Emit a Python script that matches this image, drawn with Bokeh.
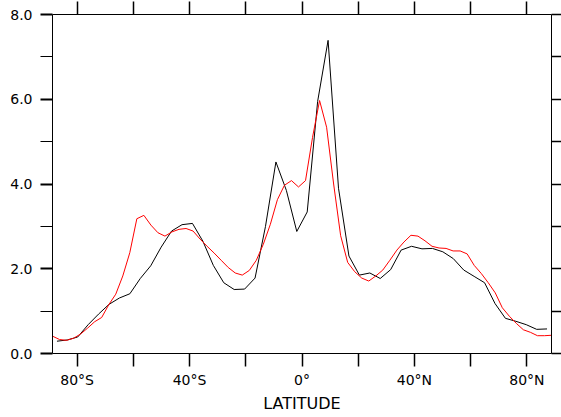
from bokeh.plotting import figure
from bokeh.models import Range1d, LinearAxis, FixedTicker
from bokeh.embed import file_html
from bokeh.resources import INLINE

# Black series: 48-point Gaussian latitudes
lat_black = [-87.159, -83.479, -79.777, -76.070, -72.362, -68.652, -64.942, -61.232,
             -57.521, -53.810, -50.099, -46.389, -42.678, -38.967, -35.256, -31.545,
             -27.833, -24.122, -20.411, -16.700, -12.989, -9.278, -5.567, -1.856,
             1.856, 5.567, 9.278, 12.989, 16.700, 20.411, 24.122, 27.833,
             31.545, 35.256, 38.967, 42.678, 46.389, 50.099, 53.810, 57.521,
             61.232, 64.942, 68.652, 72.362, 76.070, 79.777, 83.479, 87.159]
val_black = [0.29, 0.32, 0.39, 0.68, 0.93, 1.16, 1.31, 1.41,
             1.77, 2.07, 2.51, 2.89, 3.04, 3.07, 2.65, 2.08,
             1.67, 1.51, 1.52, 1.78, 3.00, 4.52, 3.85, 2.88,
             3.34, 5.95, 7.39, 3.90, 2.30, 1.85, 1.90, 1.77,
             1.98, 2.44, 2.53, 2.47, 2.48, 2.40, 2.24, 1.97,
             1.82, 1.67, 1.18, 0.83, 0.76, 0.68, 0.57, 0.58]

# Red series: 2.5-degree grid
lat_red = [-88.75, -86.25, -83.75, -81.25, -78.75, -76.25, -73.75, -71.25, -68.75, -66.25,
           -63.75, -61.25, -58.75, -56.25, -53.75, -51.25, -48.75, -46.25, -43.75, -41.25,
           -38.75, -36.25, -33.75, -31.25, -28.75, -26.25, -23.75, -21.25, -18.75, -16.25,
           -13.75, -11.25, -8.75, -6.25, -3.75, -1.25, 1.25, 3.75, 6.25, 8.75,
           11.25, 13.75, 16.25, 18.75, 21.25, 23.75, 26.25, 28.75, 31.25, 33.75,
           36.25, 38.75, 41.25, 43.75, 46.25, 48.75, 51.25, 53.75, 56.25, 58.75,
           61.25, 63.75, 66.25, 68.75, 71.25, 73.75, 76.25, 78.75, 81.25, 83.75,
           86.25, 88.75]
val_red = [0.41, 0.33, 0.31, 0.36, 0.46, 0.60, 0.75, 0.85, 1.15, 1.40,
           1.83, 2.38, 3.18, 3.26, 3.03, 2.85, 2.77, 2.87, 2.93, 2.95,
           2.89, 2.70, 2.53, 2.37, 2.20, 2.03, 1.90, 1.85, 1.96, 2.20,
           2.58, 3.05, 3.63, 3.97, 4.08, 3.93, 4.08, 5.10, 5.97, 5.34,
           4.00, 2.78, 2.15, 1.93, 1.78, 1.71, 1.83, 1.97, 2.20, 2.44,
           2.63, 2.79, 2.77, 2.66, 2.53, 2.49, 2.48, 2.42, 2.42, 2.35,
           2.08, 1.89, 1.67, 1.43, 1.08, 0.88, 0.71, 0.56, 0.50, 0.42,
           0.42, 0.43]

x_major = [-80, -40, 0, 40, 80]
x_minor = [-60, -20, 20, 60]
x_labels = {-80: "80°S", -40: "40°S", 0: "0°", 40: "40°N", 80: "80°N"}
y_major = [0, 2, 4, 6, 8]
y_minor = [1, 3, 5, 7]

FONT = "DejaVu Sans"

p = figure(width=561, height=417, x_range=Range1d(-88.75, 88.75), y_range=Range1d(0, 8),
           output_backend="svg", toolbar_location=None,
           x_axis_location=None, y_axis_location=None,
           min_border_left=52, min_border_right=10, min_border_top=14, min_border_bottom=64)
p.outline_line_color = None
p.xgrid.visible = False
p.ygrid.visible = False
p.background_fill_color = "white"
p.border_fill_color = "white"


def style(ax):
    ax.axis_line_color = "black"
    ax.axis_line_width = 1
    ax.major_tick_line_color = "black"
    ax.minor_tick_line_color = "black"
    ax.major_tick_in = 0
    ax.minor_tick_in = 0
    ax.major_label_text_font = FONT
    ax.major_label_text_color = "black"


# bottom
xb = LinearAxis(ticker=FixedTicker(ticks=x_major, minor_ticks=x_minor))
style(xb)
xb.major_tick_out = 13
xb.minor_tick_out = 13
xb.major_tick_line_width = 1.5
xb.minor_tick_line_width = 1.5
xb.major_label_overrides = x_labels
xb.major_label_text_font_size = "14px"
xb.major_label_standoff = 5
xb.axis_label = "LATITUDE"
xb.axis_label_text_font = FONT
xb.axis_label_text_font_style = "normal"
xb.axis_label_text_font_size = "16px"
xb.axis_label_text_color = "black"
xb.axis_label_standoff = 3
p.add_layout(xb, "below")

# top (unlabelled ticks only)
xt = LinearAxis(ticker=FixedTicker(ticks=[], minor_ticks=x_major + x_minor))
style(xt)
xt.minor_tick_out = 13
xt.minor_tick_line_width = 1.5
p.add_layout(xt, "above")

# left
yl = LinearAxis(ticker=FixedTicker(ticks=y_major, minor_ticks=y_minor))
style(yl)
yl.major_tick_out = 12
yl.minor_tick_out = 12
yl.major_tick_line_width = 2
yl.minor_tick_line_width = 1
yl.major_label_overrides = {v: f"{v:.1f}" for v in y_major}
yl.major_label_text_font_size = "14px"
yl.major_label_standoff = 8
p.add_layout(yl, "left")

# right (unlabelled ticks only)
yr = LinearAxis(ticker=FixedTicker(ticks=[], minor_ticks=y_major + y_minor))
style(yr)
yr.minor_tick_out = 10
yr.minor_tick_line_width = 1.5
p.add_layout(yr, "right")

p.line(lat_black, val_black, line_color="black", line_width=1)
p.line(lat_red, val_red, line_color="red", line_width=1)

open("out.html", "w").write(file_html(p, INLINE))
